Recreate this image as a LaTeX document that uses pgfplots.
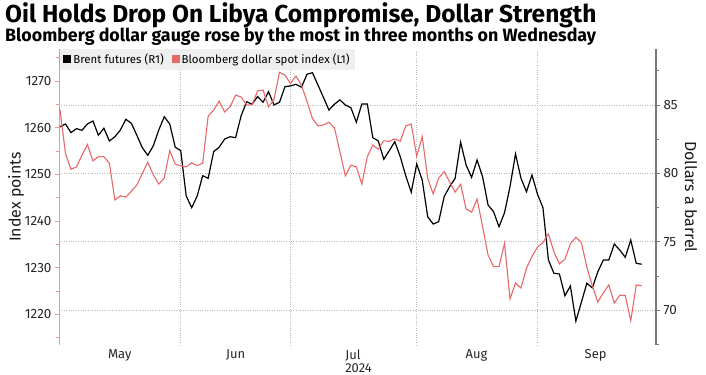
\documentclass[border=0pt]{standalone}
\usepackage{pgfplots}
\usepackage{pgfplotstable}
\pgfplotsset{compat=1.18}
\usepackage{fontspec}
\setmainfont{Fira Sans}
\definecolor{dxyred}{RGB}{232,104,104}
\definecolor{leftaxis}{RGB}{238,150,150}
\definecolor{gridgray}{RGB}{185,185,185}
\definecolor{legbg}{RGB}{239,239,239}
\definecolor{raxis}{RGB}{120,120,120}

\pgfplotstableread{
x y
0 83.41
1 83.61
2 82.98
3 83.27
4 83.15
5 83.61
6 83.83
7 82.79
8 83.30
9 82.37
10 82.68
11 83.17
12 83.95
13 83.66
14 82.79
15 81.88
16 81.32
17 82.02
18 83.17
19 84.14
20 83.61
21 81.91
22 81.66
23 78.35
24 77.49
25 78.35
26 79.83
27 79.64
28 81.59
29 81.91
30 82.51
31 82.68
32 82.61
33 84.20
34 85.24
35 85.05
36 85.61
37 85.20
38 85.97
39 85.00
40 85.20
41 86.34
42 86.39
43 86.51
44 86.30
45 87.24
46 87.36
47 86.46
48 85.56
49 84.63
50 85.05
51 85.37
52 85.00
53 84.80
54 83.74
55 85.07
56 85.07
57 82.61
58 82.37
59 81.03
60 81.66
61 82.32
62 81.22
63 79.83
64 78.62
65 80.69
66 79.52
67 76.83
68 76.30
69 76.47
70 78.30
71 79.03
72 79.64
73 82.27
74 80.61
75 79.71
76 80.98
77 79.76
78 77.69
79 77.20
80 76.10
81 77.13
82 79.03
83 81.42
84 79.64
85 78.66
86 79.88
87 78.49
88 77.49
89 73.67
90 72.70
91 72.65
92 71.06
93 71.77
94 69.21
95 70.58
96 71.97
97 71.64
98 72.81
99 73.67
100 73.67
101 74.84
102 74.40
103 73.87
104 75.13
105 73.43
106 73.36
}\brent

\pgfplotstableread{
x y
0 1263.9
1 1254.5
2 1251.1
3 1251.6
4 1254.1
5 1256.4
6 1252.9
7 1253.8
8 1253.8
9 1252.4
10 1244.5
11 1245.4
12 1245.1
13 1246.4
14 1247.7
15 1250.2
16 1252.6
17 1249.9
18 1247.9
19 1249.2
20 1255.1
21 1252.2
22 1251.8
23 1251.6
24 1252.5
25 1251.9
26 1252.4
27 1262.5
28 1263.8
29 1265.7
30 1263.4
31 1264.5
32 1267.0
33 1266.6
34 1264.9
35 1264.9
36 1267.9
37 1268.1
38 1264.5
39 1266.1
40 1271.9
41 1271.3
42 1269.5
43 1271.1
44 1269.1
45 1265.7
46 1262.0
47 1260.4
48 1260.6
49 1261.2
50 1260.0
51 1254.9
52 1249.7
53 1252.0
54 1251.6
55 1247.9
56 1253.8
57 1256.3
58 1255.4
59 1257.2
60 1257.1
61 1257.6
62 1257.1
63 1260.4
64 1260.8
65 1253.9
66 1258.1
67 1249.2
68 1245.8
69 1249.2
70 1250.6
71 1248.4
72 1246.2
73 1247.9
74 1242.6
75 1241.9
76 1244.7
77 1238.8
78 1232.7
79 1230.2
80 1230.2
81 1235.2
82 1223.3
83 1226.7
84 1225.6
85 1229.9
86 1232.4
87 1234.4
88 1235.4
89 1237.2
90 1233.4
91 1230.8
92 1231.8
93 1235.1
94 1236.5
95 1235.4
96 1230.1
97 1226.1
98 1222.6
99 1224.6
100 1226.3
101 1222.4
102 1224.1
103 1224.0
104 1218.6
105 1226.3
106 1226.1
}\dollar

\pgfplotsset{
  common/.style={
    width=597bp, height=296bp, scale only axis,
    at={(59bp,30bp)}, anchor=south west,
    xmin=-0.18, xmax=108.6,
    tick align=outside,
    major tick length=4bp, minor tick length=3bp,
    /pgf/number format/1000 sep={},
    /pgf/number format/assume math mode=true,
    ticklabel style={font=\fontsize{13.5}{15}\selectfont, text=black!85},
    label style={font=\fontsize{16}{18}\selectfont, text=black!90},
  }
}

\begin{document}
\begin{tikzpicture}
\path[use as bounding box] (0bp,0bp) rectangle (706bp,375bp);
\node[anchor=base west, inner sep=0pt, font=\bfseries\fontsize{24.6}{28}\selectfont] at (5bp,352bp) {Oil Holds Drop On Libya Compromise, Dollar Strength};
\node[anchor=base west, inner sep=0pt, font=\bfseries\fontsize{17.9}{21}\selectfont] at (5bp,333bp) {Bloomberg dollar gauge rose by the most in three months on Wednesday};

% right axis: Brent
\begin{axis}[common,
  ymin=67.46, ymax=89.09,
  axis y line*=right, axis x line*=bottom,
  x axis line style={draw=none},
  xtick={21.9,41.95,64.97,87.0},
  xticklabels={},
  xtick style={draw=none},
  xmajorgrids,
  major x grid style={gridgray, dotted, line width=0.7bp},
  y axis line style={raxis, line width=1.2bp},
  ytick={70,75,80,85},
  minor ytick={67.5,72.5,77.5,82.5,87.5},
  ytick style={raxis, line width=0.8bp},
  ymajorgrids,
  major y grid style={gridgray, dotted, line width=0.7bp},
  ylabel={Dollars a barrel},
  ylabel style={at={(axis description cs:1.0586,0.5)}, anchor=center, rotate=180},
]
\addplot[black, line width=1.2bp, mark=none] table[x=x, y=y] {\brent};
\end{axis}

% left axis: Bloomberg dollar index
\begin{axis}[common,
  ymin=1213.4, ymax=1276.9,
  axis y line*=left, axis x line*=bottom,
  x axis line style={draw=none},
  y axis line style={leftaxis, line width=1bp},
  ytick={1220,1230,1240,1250,1260,1270},
  minor ytick={1215,1225,1235,1245,1255,1265,1275},
  ytick style={leftaxis, line width=0.8bp},
  xtick={10.9,32.0,54.4,75.9,97.6},
  xticklabels={May,Jun,{Jul\\2024},Aug,Sep},
  xtick style={draw=none},
  xticklabel style={align=left, yshift=3bp, font=\fontsize{13}{13.5}\selectfont},
  ylabel={Index points},
  ylabel style={at={(axis description cs:-0.072,0.5)}, anchor=center},
  legend style={at={(axis description cs:0.002,1.002)}, anchor=north west,
    fill=legbg, draw=none, font=\fontsize{11.5}{13}\selectfont,
    inner xsep=3bp, inner ysep=3bp,
    /tikz/every even column/.append style={column sep=6bp}},
  legend columns=-1,
  legend image code/.code={\fill[#1, draw=none] (0bp,-4bp) rectangle (8bp,4bp);},
]
\addlegendimage{black, line width=1.2bp}
\addlegendentry{Brent futures (R1)}
\addplot[dxyred, line width=1.1bp, mark=none] table[x=x, y=y] {\dollar};
\addlegendentry{Bloomberg dollar spot index (L1)}
\end{axis}
\end{tikzpicture}
\end{document}
